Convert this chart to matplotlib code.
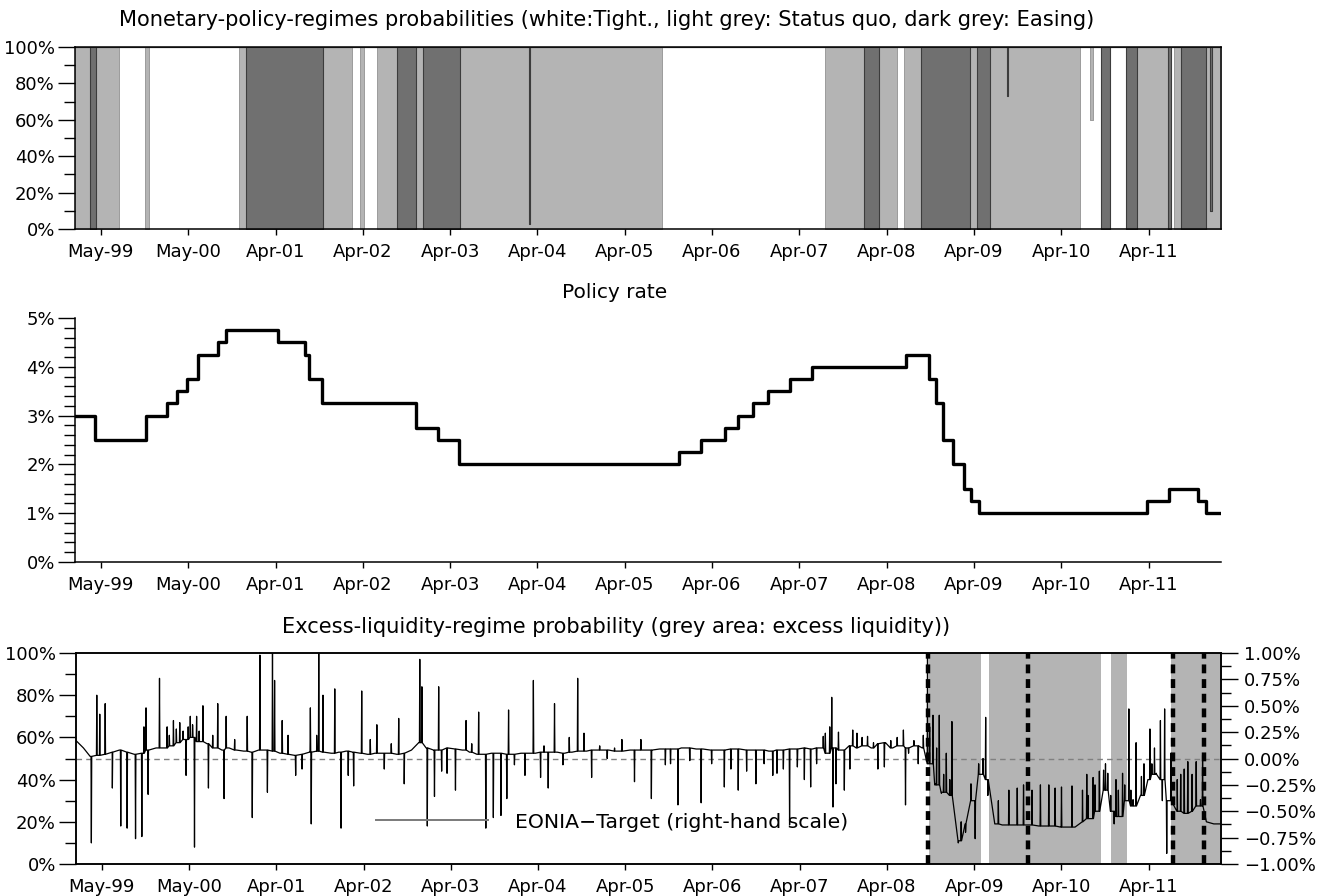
import matplotlib
matplotlib.use("Agg")
import matplotlib.pyplot as plt
import matplotlib.dates as mdates
from matplotlib.ticker import MultipleLocator, FuncFormatter
from matplotlib.lines import Line2D
import numpy as np
import pandas as pd
from datetime import datetime, timedelta

plt.rcParams['font.family'] = ['DejaVu Sans']
plt.rcParams['font.size'] = 13


def to_date(y):
    # decimal year -> datetime
    y0 = int(y)
    start = datetime(y0, 1, 1)
    return start + (datetime(y0 + 1, 1, 1) - start) * (y - y0)


# ---- panel 1: regime probabilities (segment starts, decimal years) ----
regime_start = [1999.040, 1999.215, 1999.278, 1999.540, 1999.837, 1999.883, 2000.910, 2000.990,
                2001.869, 2002.200, 2002.292, 2002.337, 2002.486, 2002.714, 2002.931, 2003.011,
                2003.433, 2004.221, 2004.231, 2005.739, 2007.605, 2008.045, 2008.213, 2008.422,
                2008.501, 2008.695, 2009.255, 2009.331, 2009.485, 2009.672, 2009.682, 2010.510,
                2010.624, 2010.658, 2010.751, 2010.857, 2011.041, 2011.161, 2011.515, 2011.554,
                2011.580, 2011.660, 2011.945, 2012.000, 2012.020, 2012.130]
p_tight = [0, 0, 0, 1, 0, 1, 0, 0,
           0, 1, 0, 1, 0, 0, 0, 0,
           0, 0, 0, 1, 0, 0, 0, 1,
           0, 0, 0, 0, 0, 0, 0, 1,
           0.6, 1, 0, 1, 0, 0, 0, 1,
           0, 0, 0, 0, 0, 0]
p_status = [1, 0, 1, 0, 1, 0, 1, 0,
            1, 0, 1, 0, 1, 0, 1, 0,
            1, 0.03, 1, 0, 1, 0, 1, 0,
            1, 0, 1, 0, 1, 0.73, 1, 0,
            0.4, 0, 0, 0, 0, 1, 0, 0,
            1, 0, 1, 0.1, 1, 1]

# ---- panel 2: policy rate ----
policy_dates = ["1999-01-04", "1999-04-09", "1999-11-05", "2000-02-04", "2000-03-17", "2000-04-28",
                "2000-06-09", "2000-09-01", "2000-10-06", "2001-05-11", "2001-08-31", "2001-09-18",
                "2001-11-09", "2002-12-06", "2003-03-07", "2003-06-06", "2005-12-06", "2006-03-08",
                "2006-06-15", "2006-08-09", "2006-10-11", "2006-12-13", "2007-03-14", "2007-06-13",
                "2008-07-09", "2008-10-15", "2008-11-12", "2008-12-10", "2009-01-21", "2009-03-11",
                "2009-04-08", "2009-05-13", "2011-04-13", "2011-07-13", "2011-11-09", "2011-12-14",
                "2012-02-14"]
policy_rate = [3.00, 2.50, 3.00, 3.25, 3.50, 3.75,
               4.25, 4.50, 4.75, 4.50, 4.25, 3.75,
               3.25, 2.75, 2.50, 2.00, 2.25, 2.50,
               2.75, 3.00, 3.25, 3.50, 3.75, 4.00,
               4.25, 3.75, 3.25, 2.50, 2.00, 1.50,
               1.25, 1.00, 1.25, 1.50, 1.25, 1.00,
               1.00]

# ---- panel 3: excess liquidity regime and EONIA - target ----
liq_start = [1999.040, 2008.785, 2009.382, 2009.464, 2010.754, 2010.865, 2011.043, 2011.548, 2012.130]
liq_prob = [0, 100, 0, 100, 0, 100, 0, 100, 100]
liq_breaks = [2008.766, 2009.912, 2011.573, 2011.924]

# monthly typical level of EONIA minus target (%), Jan 1999 - Feb 2012
eonia_monthly = [
    0.17, 0.10, 0.02, 0.03, 0.04, 0.06, 0.08, 0.06, 0.04, 0.05, 0.08, 0.10,
    0.10, 0.12, 0.15, 0.18, 0.20, 0.16, 0.14, 0.10, 0.08, 0.10, 0.08, 0.07,
    0.06, 0.08, 0.08, 0.07, 0.05, 0.04, 0.03, 0.04, 0.06, 0.07, 0.06, 0.05,
    0.06, 0.07, 0.06, 0.05, 0.04, 0.05, 0.05, 0.05, 0.04, 0.05, 0.08, 0.15,
    0.10, 0.08, 0.08, 0.10, 0.09, 0.08, 0.06, 0.04, 0.04, 0.05, 0.05, 0.04,
    0.04, 0.05, 0.05, 0.05, 0.06, 0.06, 0.06, 0.05, 0.06, 0.07, 0.07, 0.08,
    0.08, 0.08, 0.07, 0.07, 0.08, 0.08, 0.08, 0.08, 0.09, 0.09, 0.09, 0.10,
    0.10, 0.09, 0.09, 0.08, 0.08, 0.08, 0.09, 0.09, 0.08, 0.08, 0.08, 0.07,
    0.08, 0.08, 0.09, 0.09, 0.10, 0.09, 0.10, 0.05, 0.10, 0.08, 0.12, 0.10,
    0.12, 0.10, 0.14, 0.15, 0.10, 0.12, 0.10, 0.12, 0.10, -0.05, -0.25, -0.32,
    -0.35, -0.78, -0.62, -0.40, -0.15, -0.20, -0.62, -0.63, -0.63, -0.63, -0.63, -0.63,
    -0.64, -0.64, -0.64, -0.65, -0.65, -0.65, -0.60, -0.57, -0.50, -0.30, -0.50, -0.55,
    -0.40, -0.45, -0.35, -0.20, -0.15, -0.20, -0.40, -0.50, -0.52, -0.50, -0.45, -0.60,
    -0.62, -0.62]

# daily spikes (decimal year, %)
spike_yr = [1999.214, 1999.276, 1999.310, 1999.372, 1999.454, 1999.550, 1999.623, 1999.719,
            1999.791, 1999.815, 1999.839, 1999.863, 1999.993, 2000.080, 2000.105, 2000.152,
            2000.185, 2000.224, 2000.262, 2000.296, 2000.320, 2000.344, 2000.370, 2000.392,
            2000.416, 2000.445, 2000.488, 2000.551, 2000.600, 2000.657, 2000.729,
            2000.753, 2000.850, 2000.993, 2001.051, 2001.138, 2001.224, 2001.282, 2001.306,
            2001.393, 2001.460, 2001.547, 2001.620, 2001.715, 2001.725, 2001.787, 2001.811,
            2001.859, 2001.994, 2002.066, 2002.148, 2002.210, 2002.302, 2002.400, 2002.475,
            2002.560, 2002.640, 2002.725, 2002.788, 2002.966, 2002.990, 2003.052, 2003.134,
            2003.182, 2003.216, 2003.278, 2003.374, 2003.495, 2003.560, 2003.639, 2003.721,
            2003.807, 2003.894, 2003.961, 2003.981, 2004.048, 2004.168, 2004.264, 2004.346,
            2004.385, 2004.433, 2004.505, 2004.601, 2004.673, 2004.769, 2004.841, 2004.928,
            2005.020, 2005.106, 2005.190, 2005.274, 2005.418, 2005.491, 2005.611,
            2005.771, 2005.830, 2005.915, 2006.050, 2006.180, 2006.300, 2006.445, 2006.520,
            2006.604, 2006.700, 2006.806, 2006.900, 2006.999, 2007.047, 2007.120, 2007.191,
            2007.280, 2007.360, 2007.432, 2007.500, 2007.576, 2007.600, 2007.650, 2007.673,
            2007.687, 2007.721, 2007.750, 2007.817, 2007.880, 2007.913, 2007.961, 2008.020,
            2008.082, 2008.150, 2008.200, 2008.274, 2008.347, 2008.420, 2008.491, 2008.515,
            2008.550, 2008.611, 2008.660, 2008.718, 2008.766, 2008.790, 2008.810, 2008.828,
            2008.852, 2008.870, 2008.900, 2008.924, 2008.950, 2008.980, 2009.020, 2009.044,
            2009.117, 2009.150, 2009.200, 2009.262, 2009.310, 2009.350, 2009.400, 2009.430,
            2009.455, 2009.575, 2009.695, 2009.791, 2009.863, 2009.960, 2010.056, 2010.152,
            2010.224, 2010.297, 2010.417, 2010.537, 2010.586, 2010.600, 2010.658, 2010.680,
            2010.730, 2010.778, 2010.800, 2010.826, 2010.860, 2010.899, 2010.920, 2010.947,
            2010.995, 2011.020, 2011.067, 2011.090, 2011.115, 2011.150, 2011.211, 2011.240,
            2011.308, 2011.330, 2011.360, 2011.380, 2011.428, 2011.450, 2011.476, 2011.500,
            2011.548, 2011.620, 2011.660, 2011.700, 2011.741, 2011.790, 2011.837, 2011.886,
            2011.910]
spike_val = [-0.80, 0.60, 0.42, 0.52, -0.28, -0.64, -0.66, -0.76,
             -0.74, 0.30, 0.48, -0.34, 0.76, 0.30, 0.22, 0.36,
             0.28, 0.34, 0.26, -0.16, 0.30, 0.40, 0.32, -0.84,
             0.40, 0.26, 0.50, -0.28, 0.22, 0.52, -0.38,
             0.40, 0.18, 0.40, -0.56, 0.98, -0.32, 1.00, 0.74,
             0.36, 0.22, -0.16, -0.10, 0.48, -0.62, 0.22, 1.00,
             0.60, 0.66, -0.66, -0.16, -0.26, 0.64, 0.18, 0.32,
             -0.10, 0.14, 0.38, -0.24, 0.94, 0.68, -0.64, -0.36,
             0.68, -0.12, -0.14, -0.30, 0.36, 0.14, 0.44, -0.66,
             -0.56, -0.54, -0.38, 0.46, -0.06, -0.16, 0.74, -0.18,
             0.12, -0.28, 0.52, -0.06, 0.20, 0.76, 0.24, -0.18,
             0.12, 0.00, 0.10, 0.18, -0.22, 0.18, -0.38,
             -0.06, -0.05, -0.44, -0.02, -0.42, -0.05, -0.27, -0.10,
             -0.30, -0.12, -0.24, -0.05, -0.16, -0.14, -0.10, -0.63,
             -0.08, -0.20, -0.27, -0.05, 0.21, 0.24, 0.30, 0.58,
             -0.46, -0.24, 0.25, -0.30, -0.10, 0.27, 0.24, 0.20,
             0.21, 0.15, -0.10, -0.08, 0.17, 0.20, 0.27, -0.44,
             0.05, 0.17, -0.05, 0.22, 0.99, 0.30, -0.05, 0.41,
             -0.24, 0.10, 0.41, -0.33, -0.15, 0.05, -0.20, 0.35,
             -0.80, -0.60, -0.70, -0.24, -0.76, -0.05, 0.00, 0.39,
             -0.35, -0.40, -0.30, -0.28, -0.25, -0.30, -0.25, -0.25,
             -0.28, -0.27, -0.26, -0.30, -0.15, -0.35, -0.18, -0.25,
             -0.12, -0.11, -0.05, -0.14, -0.35, -0.62, -0.20, -0.30,
             -0.14, -0.25, 0.47, -0.30, -0.39, 0.15, -0.17, -0.05,
             0.28, -0.05, 0.10, -0.14, 0.36, -0.40, 0.47, -0.90,
             0.05, -0.20, -0.15, -0.10, -0.03, -0.15, -0.03, -0.39,
             0.03]

# ---------------------------------------------------------------
W, H = 1322, 896
fig = plt.figure(figsize=(W / 100, H / 100), dpi=100)


def px_axes(l, t, r, b):
    return fig.add_axes([l / W, 1 - b / H, (r - l) / W, (b - t) / H])


x_min, x_max = datetime(1999, 1, 15), datetime(2012, 2, 14)
x_ticks = [datetime(1999, 5, 3) + timedelta(days=364 * k) for k in range(13)]


def style_axes(ax, minor):
    ax.set_xlim(x_min, x_max)
    ax.set_xticks(x_ticks)
    ax.xaxis.set_major_formatter(mdates.DateFormatter('%b-%y'))
    ax.yaxis.set_minor_locator(MultipleLocator(minor))
    ax.tick_params(axis='x', direction='out', length=4, width=1, pad=6)
    ax.tick_params(axis='y', which='major', direction='out', length=12.5, width=1, pad=2)
    ax.tick_params(axis='y', which='minor', direction='out', length=8, width=1)
    for s in ax.spines.values():
        s.set_linewidth(1.1)


pct = FuncFormatter(lambda v, _: f"{v:.0f}%")

# panel 1
ax1 = px_axes(75, 47, 1221, 229)
t1 = [to_date(y) for y in regime_start]
lo = np.array(p_tight) * 100
mid = lo + np.array(p_status) * 100
ax1.fill_between(t1, 0, lo, step='post', color='white', lw=0)
ax1.fill_between(t1, lo, mid, step='post', facecolor='#b4b4b4', edgecolor='#9c9c9c', lw=0.7)
ax1.fill_between(t1, mid, 100, step='post', facecolor='#707070', edgecolor='#3c3c3c', lw=0.8)
ax1.set_ylim(0, 100)
ax1.set_yticks(range(0, 101, 20))
ax1.yaxis.set_major_formatter(pct)
style_axes(ax1, 10)

# panel 2
ax2 = px_axes(75, 318, 1221, 562)
ax2.step([pd.Timestamp(d) for d in policy_dates], policy_rate, where='post', color='black', lw=2.4)
ax2.set_ylim(0, 5)
ax2.set_yticks(range(0, 6))
ax2.yaxis.set_major_formatter(pct)
ax2.spines['top'].set_visible(False)
ax2.spines['right'].set_visible(False)
style_axes(ax2, 0.2)

# panel 3
ax3 = px_axes(76, 653, 1221, 864)
ax3.fill_between([to_date(y) for y in liq_start], 0, liq_prob, step='post', color='#b4b4b4', lw=0)
ax3.set_ylim(0, 100)
ax3.set_yticks(range(0, 101, 20))
ax3.yaxis.set_major_formatter(pct)
style_axes(ax3, 10)

ax3r = ax3.twinx()
ax3r.set_xlim(x_min, x_max)

# series: monthly level, each spike leaves from and returns to its month's level
pts_t = list(pd.date_range('1999-01-01', periods=len(eonia_monthly), freq='MS') + pd.Timedelta(days=14))
pts_v = list(eonia_monthly)
for y, v in zip(spike_yr, spike_val):
    d = to_date(y)
    base = eonia_monthly[(d.year - 1999) * 12 + d.month - 1]
    pts_t += [d - timedelta(days=1.5), d, d + timedelta(days=1.5)]
    pts_v += [base, v, base]
eonia = pd.Series(pts_v, index=pd.to_datetime(pts_t)).sort_index()

ax3r.axhline(0, color='#808080', lw=1, dashes=(4, 3))
ax3r.plot(eonia.index, eonia.values, color='black', lw=0.9)
for y in liq_breaks:
    ax3r.axvline(to_date(y), color='black', lw=3.2, dashes=(2.0, 1.3))
ax3r.set_ylim(-1, 1)
ax3r.yaxis.set_major_locator(MultipleLocator(0.25))
ax3r.yaxis.set_minor_locator(MultipleLocator(0.125))
ax3r.yaxis.set_major_formatter(FuncFormatter(lambda v, _: f"{v:.2f}%".replace('-', '\u2212')))
ax3r.tick_params(axis='y', which='major', direction='out', length=12.5, width=1, pad=4)
ax3r.tick_params(axis='y', which='minor', direction='out', length=7.5, width=1)
for s in ax3r.spines.values():
    s.set_linewidth(1.1)

ax3r.legend([Line2D([], [], color='#7a7a7a', lw=1.4)], ['EONIA\u2212Target (right-hand scale)'],
            loc='center left', bbox_to_anchor=((376 - 76) / 1145, (864 - 822) / 211),
            frameon=False, borderpad=0, borderaxespad=0, handlelength=5.5, handletextpad=1.3,
            fontsize=14.7)

# titles
fig.text(607 / W, 1 - 20 / H,
         "Monetary-policy-regimes probabilities (white:Tight., light grey: Status quo, dark grey: Easing)",
         ha='center', va='center', fontsize=15.1)
fig.text(615 / W, 1 - 292 / H, "Policy rate", ha='center', va='center', fontsize=14.5)
fig.text(616 / W, 1 - 627 / H,
         "Excess-liquidity-regime probability (grey area: excess liquidity))",
         ha='center', va='center', fontsize=15.1)

fig.savefig("out.png", dpi=100)
